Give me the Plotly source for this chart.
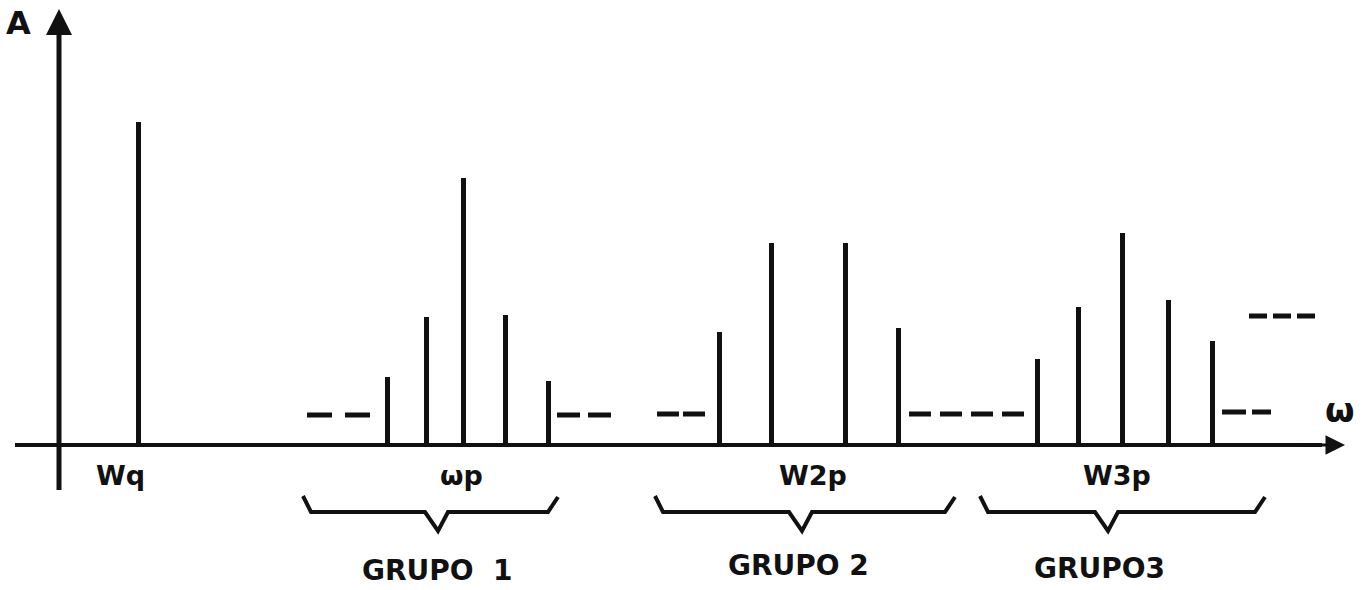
import plotly.graph_objects as go

# ---- data (frequency axis in drawing units, amplitude above baseline) ----
carrier_freq = [138]
carrier_amp = [323]

g1_freq = [387, 426, 463, 505, 548]
g1_amp = [68, 128, 267, 130, 64]

g2_freq = [719, 771, 845, 898]
g2_amp = [113, 202, 202, 117]

g3_freq = [1037, 1078, 1122, 1168, 1212]
g3_amp = [86, 138, 212, 145, 104]

# continuation dashes: start, end, level
dash_start = [307, 557, 657, 909, 1222, 1249]
dash_end = [370, 612, 705, 1025, 1271, 1318]
dash_level = [30, 30, 31, 31, 33, 129]
dash_style = ["25px,13px", "23px,8px", "22px,4px", "22px,9px", "24px,6px", "18px,6px"]

# group braces: left end, centre (V), right end
brace_left = [303, 655, 980]
brace_mid = [438, 802, 1108]
brace_right = [558, 955, 1265]
group_labels = ["GRUPO  1", "GRUPO 2", "GRUPO3"]
group_label_x = [437, 798, 1099]
group_label_y = [-125, -120, -123]

freq_labels = ["Wq", "ωp", "W2p", "W3p"]
freq_label_x = [120, 461, 813, 1117]

INK = "#111111"
FONT = "DejaVu Sans"

fig = go.Figure()

# axes
fig.add_trace(go.Scatter(x=[15, 1322], y=[0, 0], mode="lines",
                         line=dict(color=INK, width=4), hoverinfo="skip"))
fig.add_trace(go.Scatter(x=[59, 59], y=[-45, 420], mode="lines",
                         line=dict(color=INK, width=5), hoverinfo="skip"))

# spectral lines
all_freq = carrier_freq + g1_freq + g2_freq + g3_freq
all_amp = carrier_amp + g1_amp + g2_amp + g3_amp
fig.add_trace(go.Bar(x=all_freq, y=all_amp, width=5, marker=dict(color=INK, line=dict(width=0)),
                     hoverinfo="skip"))

# dashes
for x0, x1, lv, st in zip(dash_start, dash_end, dash_level, dash_style):
    fig.add_trace(go.Scatter(x=[x0, x1], y=[lv, lv], mode="lines",
                             line=dict(color=INK, width=5, dash=st), hoverinfo="skip"))

# braces
y_end, y_flat, y_tip = -51, -67, -86
for L, M, R in zip(brace_left, brace_mid, brace_right):
    fig.add_trace(go.Scatter(
        x=[L, L + 8, M - 13, M, M + 10, R - 10, R],
        y=[y_end, y_flat, y_flat, y_tip, y_flat, y_flat, y_end - 1],
        mode="lines", line=dict(color=INK, width=4), hoverinfo="skip"))

annotations = []
# arrow heads
annotations.append(dict(x=1345, y=0, ax=1300, ay=0, xref="x", yref="y", axref="x", ayref="y",
                        showarrow=True, arrowhead=2, arrowsize=1.3, arrowwidth=3,
                        arrowcolor=INK, text=""))
annotations.append(dict(x=59, y=436, ax=59, ay=380, xref="x", yref="y", axref="x", ayref="y",
                        showarrow=True, arrowhead=2, arrowsize=1.3, arrowwidth=4,
                        arrowcolor=INK, text=""))

# frequency labels
for t, xv in zip(freq_labels, freq_label_x):
    annotations.append(dict(x=xv, y=-30, xref="x", yref="y", text="<b>" + t + "</b>", showarrow=False,
                            font=dict(family=FONT, size=27, color=INK)))
# group labels
for t, xv, yv in zip(group_labels, group_label_x, group_label_y):
    annotations.append(dict(x=xv, y=yv, xref="x", yref="y", text="<b>" + t + "</b>",
                            showarrow=False, font=dict(family=FONT, size=28, color=INK)))
# axis labels
annotations.append(dict(x=18, y=422, xref="x", yref="y", text="<b>A</b>", showarrow=False,
                        font=dict(family=FONT, size=32, color=INK)))
annotations.append(dict(x=1340, y=35, xref="x", yref="y", text="<b>ω</b>", showarrow=False,
                        font=dict(family=FONT, size=34, color=INK)))

fig.update_layout(
    width=1371, height=590,
    margin=dict(l=0, r=0, t=0, b=0),
    paper_bgcolor="white", plot_bgcolor="white",
    showlegend=False,
    bargap=0,
    annotations=annotations,
    xaxis=dict(range=[0, 1371], visible=False, fixedrange=True),
    yaxis=dict(range=[-145, 445], visible=False, fixedrange=True),
)

fig.write_html("out.html")
